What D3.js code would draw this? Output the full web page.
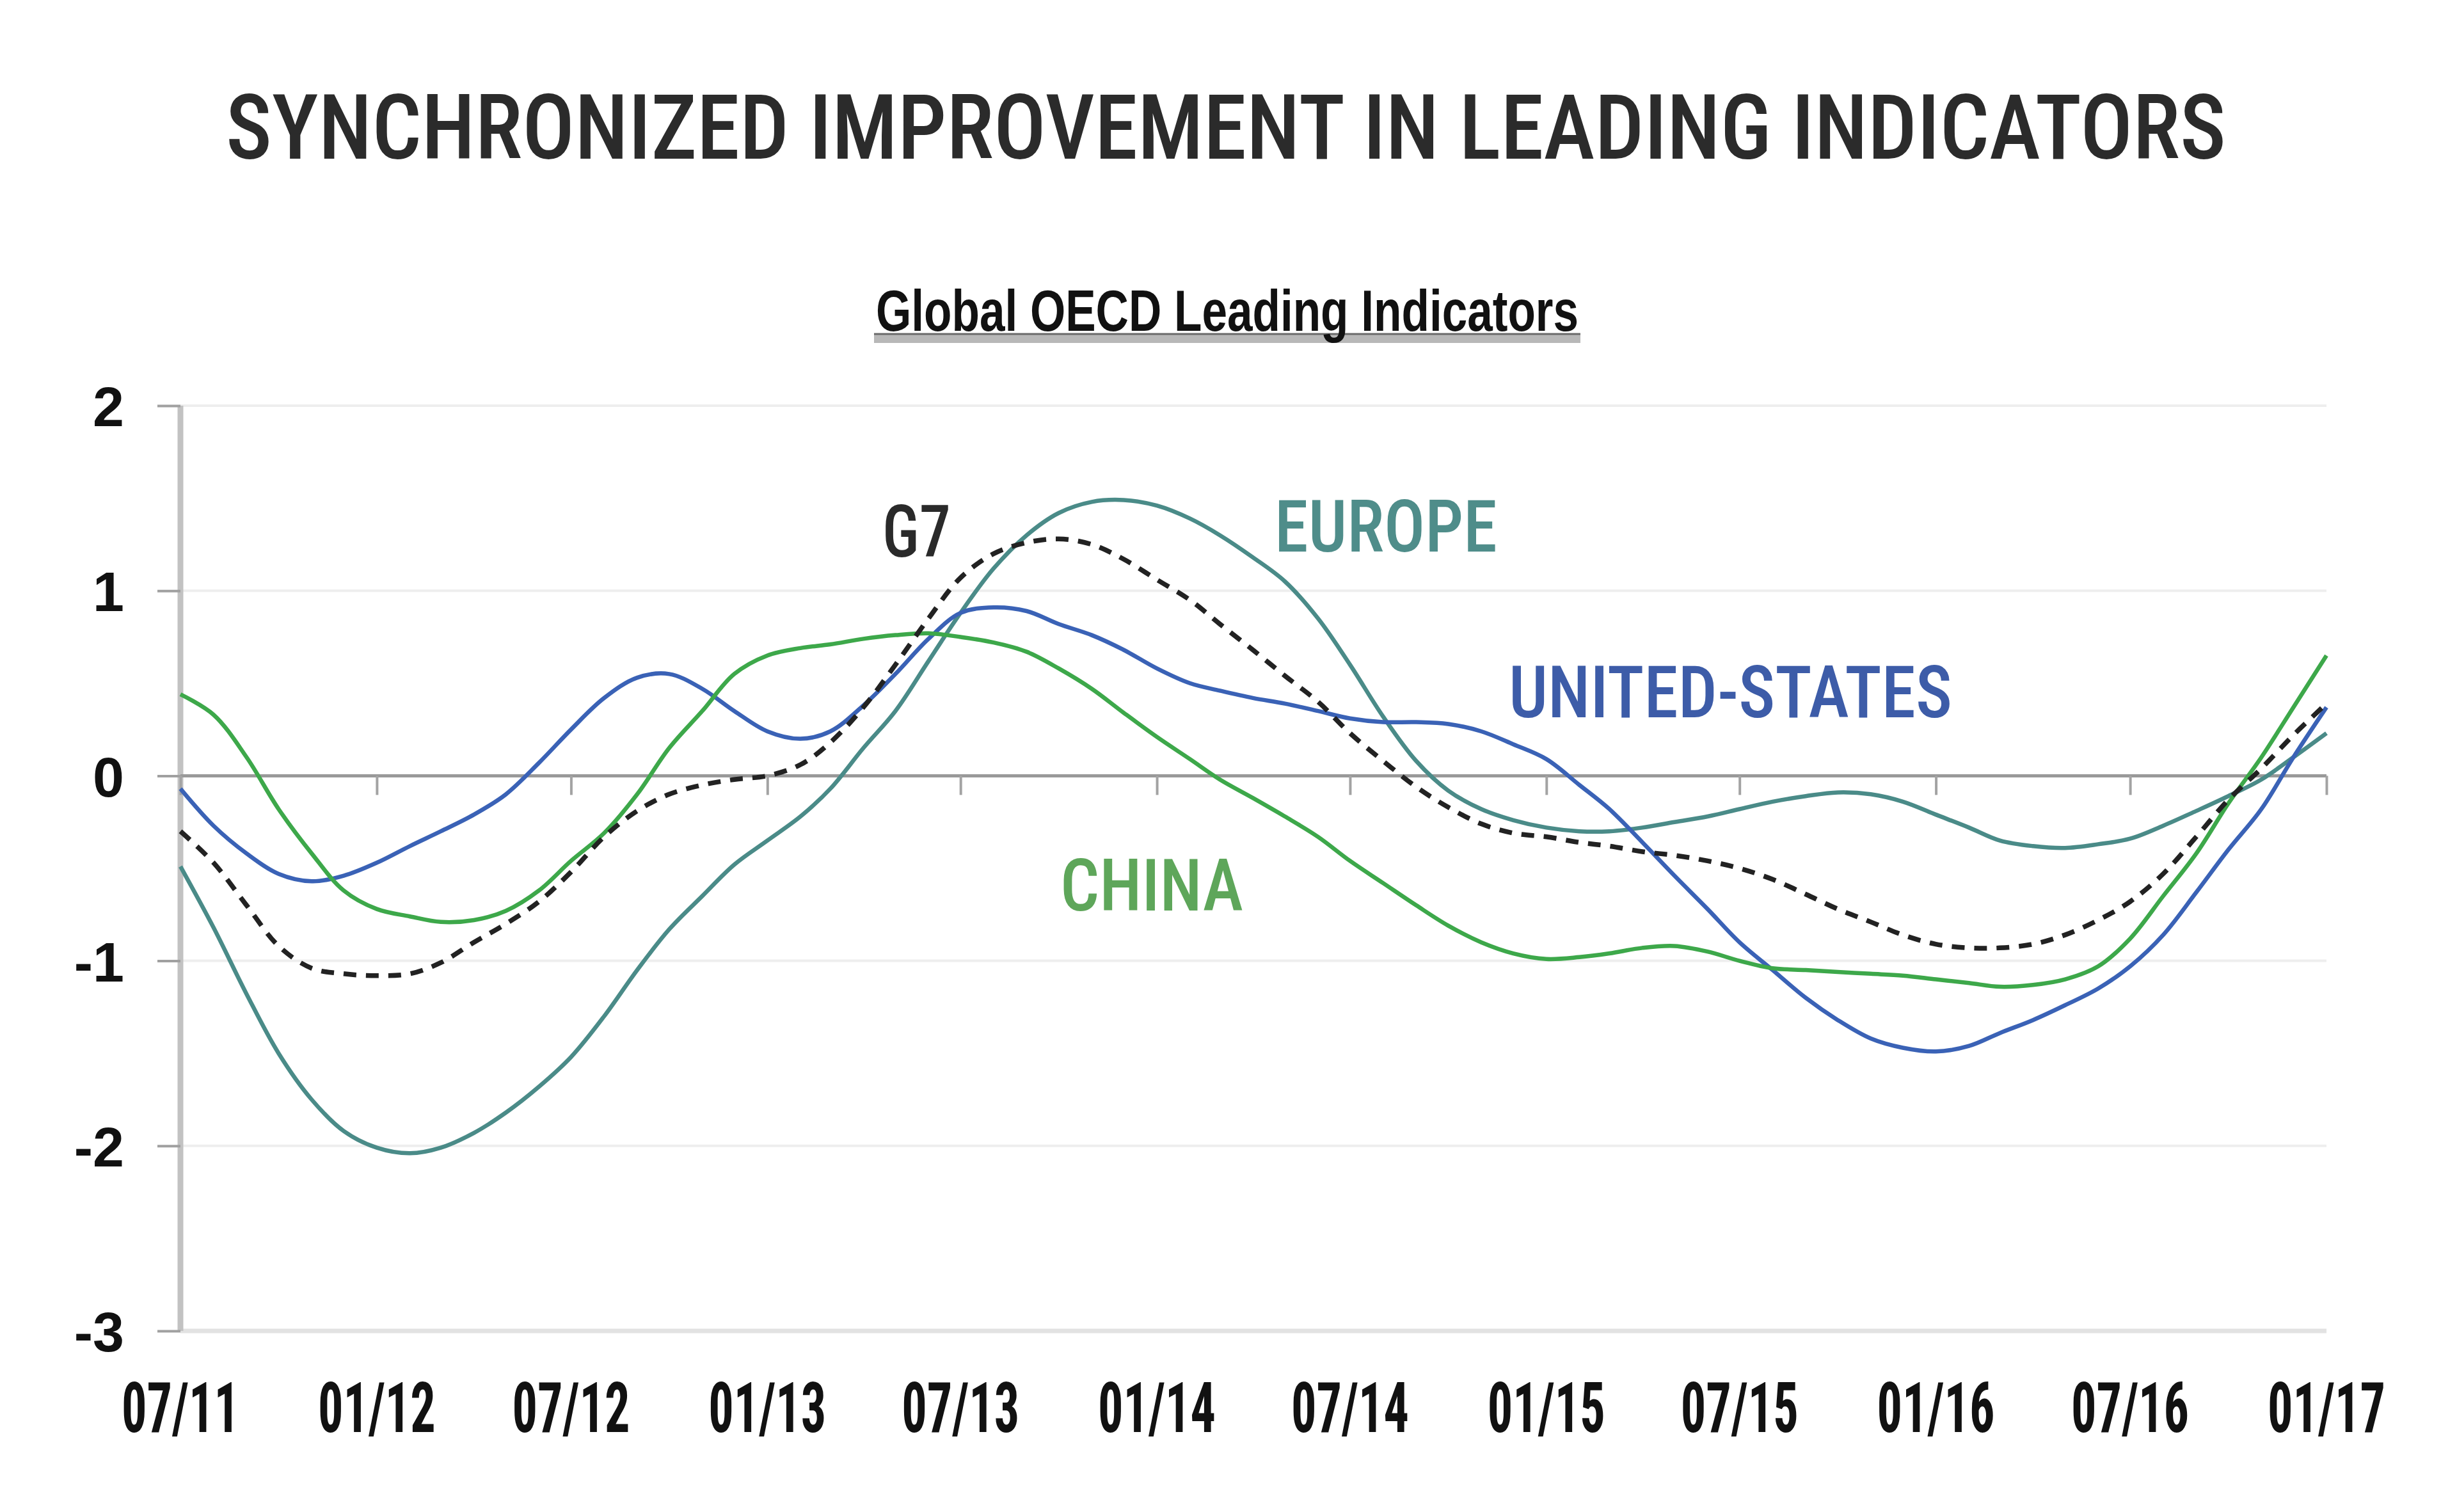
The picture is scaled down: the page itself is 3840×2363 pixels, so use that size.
<!DOCTYPE html>
<html>
<head>
<meta charset="utf-8">
<script src="https://cdn.jsdelivr.net/npm/d3@7/dist/d3.min.js"></script>
<style>
  html, body { margin: 0; padding: 0; background: #ffffff; }
  svg { display: block; }
</style>
</head>
<body>
<svg id="chart" width="3840" height="2363"></svg>
<script>
// ---------------- DATA ----------------
const startMonth = "2011-07";
const endMonth = "2017-01";
const xTickLabels = ["07/11","01/12","07/12","01/13","07/13","01/14","07/14","01/15","07/15","01/16","07/16","01/17"];
const yTicks = [2, 1, 0, -1, -2, -3];
const yTickLabels = ["2", "1", "0", "-1", "-2", "-3"];

const europe = [-0.49,-0.82,-1.18,-1.50,-1.75,-1.92,-2.01,-2.04,-2.01,-1.93,-1.82,-1.68,-1.52,-1.30,-1.05,-0.83,-0.65,-0.48,-0.35,-0.22,
  -0.07,0.15,0.35,0.62,0.88,1.12,1.30,1.42,1.48,1.49,1.46,1.39,1.30,1.18,1.05,0.85,0.60,0.32,0.08,-0.08,
  -0.18,-0.24,-0.28,-0.30,-0.30,-0.28,-0.25,-0.22,-0.18,-0.14,-0.11,-0.09,-0.10,-0.14,-0.21,-0.28,-0.35,-0.38,-0.39,-0.37,
  -0.34,-0.27,-0.19,-0.11,-0.02,0.10,0.23];
const unitedStates = [-0.07,-0.27,-0.42,-0.53,-0.57,-0.54,-0.47,-0.38,-0.30,-0.21,-0.10,0.07,0.25,0.42,0.53,0.55,0.47,0.35,0.24,0.20,
  0.24,0.38,0.55,0.74,0.88,0.91,0.89,0.82,0.76,0.68,0.58,0.50,0.46,0.42,0.39,0.35,0.31,0.29,0.29,0.28,
  0.24,0.17,0.09,-0.05,-0.18,-0.36,-0.54,-0.72,-0.90,-1.05,-1.20,-1.32,-1.42,-1.47,-1.49,-1.46,-1.39,-1.32,-1.24,-1.15,
  -1.03,-0.86,-0.63,-0.40,-0.18,0.10,0.37];
const china = [0.44,0.33,0.10,-0.18,-0.42,-0.62,-0.72,-0.76,-0.79,-0.78,-0.73,-0.62,-0.46,-0.31,-0.10,0.15,0.35,0.55,0.65,0.69,
  0.71,0.74,0.76,0.77,0.75,0.72,0.67,0.58,0.47,0.34,0.21,0.09,-0.02,-0.12,-0.22,-0.33,-0.46,-0.58,-0.70,-0.81,
  -0.90,-0.96,-0.99,-0.98,-0.96,-0.93,-0.92,-0.95,-1.00,-1.04,-1.05,-1.06,-1.07,-1.08,-1.10,-1.12,-1.14,-1.13,-1.10,-1.03,
  -0.88,-0.65,-0.42,-0.15,0.10,0.37,0.65];
const g7 = [-0.30,-0.47,-0.70,-0.92,-1.04,-1.07,-1.08,-1.07,-1.01,-0.90,-0.80,-0.68,-0.52,-0.33,-0.19,-0.10,-0.05,-0.02,0.00,0.06,
  0.18,0.37,0.60,0.85,1.07,1.20,1.26,1.28,1.25,1.17,1.06,0.95,0.82,0.68,0.54,0.40,0.23,0.08,-0.06,-0.17,
  -0.26,-0.31,-0.33,-0.36,-0.38,-0.41,-0.43,-0.46,-0.50,-0.56,-0.64,-0.72,-0.79,-0.86,-0.91,-0.93,-0.93,-0.91,-0.86,-0.78,
  -0.68,-0.53,-0.33,-0.13,0.04,0.22,0.39];

const seriesNames = ["EUROPE", "UNITED-STATES", "CHINA", "G7"];
const seriesValues = [europe, unitedStates, china, g7];

// ---------------- STYLE / LAYOUT ----------------
const parseMonth = d3.timeParse("%Y-%m");
const months = d3.timeMonth.range(parseMonth(startMonth), d3.timeMonth.offset(parseMonth(endMonth), 1));
const tickDates = d3.timeMonth.every(6).range(parseMonth(startMonth), d3.timeMonth.offset(parseMonth(endMonth), 1));

const styles = {
  "EUROPE":        { color: "#4a8b88", dash: null,    width: 6.5, label: { x: 1992, y: 862, w: 348, color: "#4f8d8a" } },
  "UNITED-STATES": { color: "#3a62b6", dash: null,    width: 6.5, label: { x: 2358, y: 1121, w: 693, color: "#3d5ca8" } },
  "CHINA":         { color: "#3da84a", dash: null,    width: 6.5, label: { x: 1657, y: 1423, w: 286, color: "#5ea65a" } },
  "G7":            { color: "#222222", dash: "20,15", width: 7.5, label: { x: 1379, y: 870, w: 107, color: "#2a2a2a" } }
};

const svg = d3.select("#chart");
const x = d3.scaleTime().domain([parseMonth(startMonth), parseMonth(endMonth)]).range([282, 3636]);
const y = d3.scaleLinear().domain([-3, 2]).range([2080, 634]);

const condensed = "'Roboto Condensed', 'Liberation Sans Narrow', Roboto, 'DejaVu Sans', sans-serif";

// Title
svg.append("text")
  .attr("x", 353).attr("y", 248)
  .attr("textLength", 3126).attr("lengthAdjust", "spacingAndGlyphs")
  .style("font-family", condensed).style("font-weight", 500)
  .style("font-size", "141px").style("fill", "#2b2b2b")
  .text("SYNCHRONIZED IMPROVEMENT IN LEADING INDICATORS");

// Subtitle with underline
svg.append("rect").attr("x", 1366).attr("y", 521).attr("width", 1104).attr("height", 15).attr("fill", "#b8b8b8");
svg.append("line").attr("x1", 1366).attr("x2", 2470).attr("y1", 522).attr("y2", 522)
  .attr("stroke", "#6a6a6a").attr("stroke-width", 3);
svg.append("text")
  .attr("x", 1369).attr("y", 517)
  .attr("textLength", 1098).attr("lengthAdjust", "spacingAndGlyphs")
  .style("font-family", "'Liberation Sans', Arial, sans-serif").style("font-weight", 700)
  .style("font-size", "90px").style("fill", "#111")
  .text("Global OECD Leading Indicators");

// Gridlines
svg.append("g").selectAll("line").data(yTicks.filter(d => d !== 0)).join("line")
  .attr("x1", 282).attr("x2", x(parseMonth(endMonth)))
  .attr("y1", d => y(d)).attr("y2", d => y(d))
  .attr("stroke", d => d === -3 ? "#e2e2e2" : "#eeeeee").attr("stroke-width", d => d === -3 ? 7 : 4);

// Y axis
const yAxis = d3.axisLeft(y).tickValues(yTicks).tickSize(36).tickPadding(52)
  .tickFormat((d, i) => yTickLabels[i]);
const yg = svg.append("g").attr("transform", "translate(282,0)").call(yAxis);
yg.select(".domain").attr("stroke", "#c2c2c2").attr("stroke-width", 9).attr("d", `M0,${y(2)}V${y(-3)}`);
yg.selectAll(".tick line").attr("stroke", "#a0a0a0").attr("stroke-width", 4);
yg.selectAll(".tick text")
  .style("font-family", "'Liberation Sans', Arial, sans-serif").style("font-weight", 700)
  .style("font-size", "88px").attr("fill", "#111").attr("dy", "0.36em");

// Zero line with ticks
const xAxis = d3.axisBottom(x).tickValues(tickDates).tickSize(30).tickFormat("");
const xg = svg.append("g").attr("transform", `translate(0,${y(0)})`).call(xAxis);
xg.select(".domain").attr("stroke", "#999").attr("stroke-width", 5).attr("d", `M282,0H${x(parseMonth(endMonth))}`);
xg.selectAll(".tick line").attr("stroke", "#a3a3a3").attr("stroke-width", 4);

// X tick labels at the bottom
svg.append("g").selectAll("text").data(tickDates).join("text")
  .attr("x", d => x(d)).attr("y", 2238)
  .attr("text-anchor", "middle")
  .attr("textLength", 184).attr("lengthAdjust", "spacingAndGlyphs")
  .style("font-family", condensed).style("font-weight", 700)
  .style("font-size", "110px").style("fill", "#111")
  .text((d, i) => xTickLabels[i]);

// Lines
const line = d3.line().x((d, i) => x(months[i])).y(d => y(d)).curve(d3.curveCatmullRom.alpha(0.5));
seriesNames.forEach((name, k) => {
  const s = styles[name];
  svg.append("path")
    .datum(seriesValues[k])
    .attr("d", line)
    .attr("fill", "none")
    .attr("stroke", s.color)
    .attr("stroke-width", s.width)
    .attr("stroke-linejoin", "round")
    .attr("stroke-dasharray", s.dash);
});

// Series labels
seriesNames.forEach(name => {
  const l = styles[name].label;
  svg.append("text")
    .attr("x", l.x).attr("y", l.y)
    .attr("textLength", l.w).attr("lengthAdjust", "spacingAndGlyphs")
    .style("font-family", condensed).style("font-weight", 500)
    .style("font-size", "114px").style("fill", l.color)
    .text(name);
});
</script>
</body>
</html>
